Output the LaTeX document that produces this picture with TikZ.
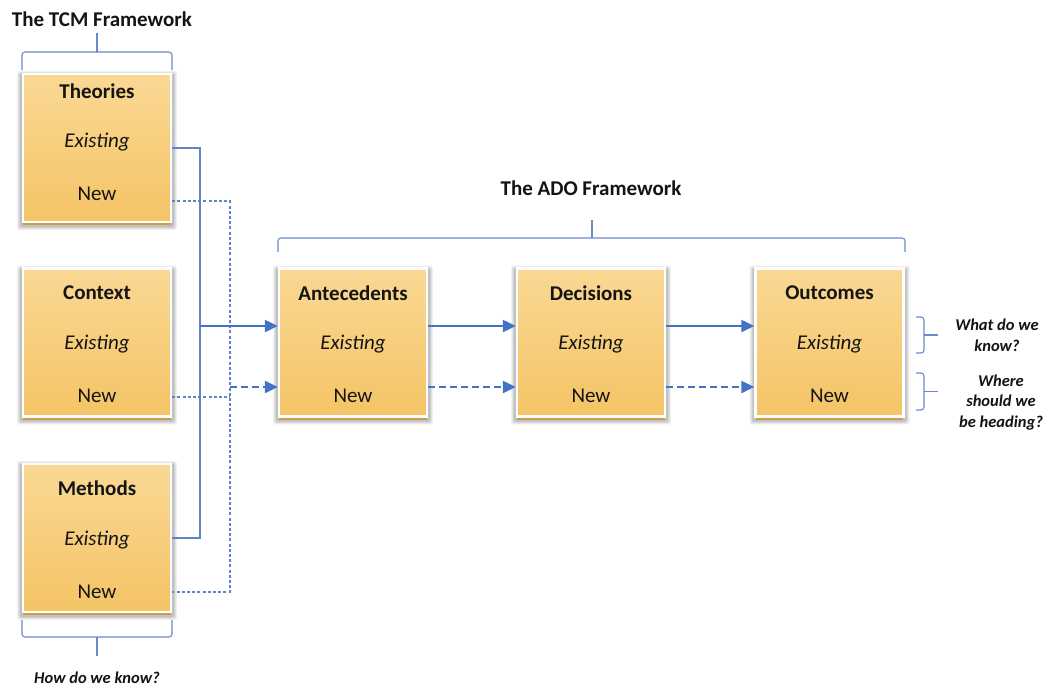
\documentclass[tikz,border=0pt]{standalone}
\usepackage{fontspec}
\setmainfont{Carlito}
\usetikzlibrary{arrows.meta,calc}

\definecolor{linkblue}{RGB}{68,114,196}
\definecolor{thinblue}{RGB}{95,130,200}
\definecolor{bracecol}{RGB}{105,138,205}
\definecolor{boxtop}{RGB}{250,216,148}
\definecolor{boxbot}{RGB}{244,196,102}
\definecolor{boxedge}{RGB}{205,158,70}
\definecolor{inktext}{RGB}{20,20,20}

\tikzset{
  x=1pt, y=-1pt,
  cardbox/.style={minimum width=148pt, minimum height=148pt, inner sep=0pt,
    top color=boxtop, bottom color=boxbot, draw=white, line width=2.4pt},
  cardtitle/.style={font=\fontsize{21}{24}\selectfont\bfseries, text=inktext, inner sep=0pt},
  cardold/.style={font=\fontsize{21}{24}\selectfont\itshape, text=inktext, inner sep=0pt},
  cardnew/.style={font=\fontsize{21}{24}\selectfont, text=inktext, inner sep=0pt},
  frametitle/.style={font=\fontsize{21}{24}\selectfont\bfseries, text=inktext, inner sep=0pt},
  question/.style={font=\fontsize{16.5}{20.5}\selectfont\bfseries\itshape, text=inktext,
    align=center, inner sep=0pt},
  bracket/.style={draw=bracecol, line width=1.1pt, rounded corners=3pt},
  feedline/.style={draw=thinblue, line width=1.3pt},
  feeddash/.style={draw=thinblue, line width=1.1pt, dash pattern=on 3pt off 2.2pt},
  mainarrow/.style={draw=linkblue, line width=2.3pt, -{Triangle[length=13pt,width=12pt]}},
  dasharrow/.style={draw=linkblue, line width=2.3pt, dash pattern=on 7pt off 4pt,
    -{Triangle[length=13pt,width=12pt]}},
}

% a card with a soft shadow, a white rim and a darker bottom edge
\newcommand\framecard[6]{%
  % #1 name, #2 centre x, #3 centre y, #4 title, #5 title offset, #6 line step
  \foreach \g/\o in {5/0.05,4/0.06,3/0.07,2/0.08} {
    \fill[black, opacity=\o, rounded corners=2pt]
      (#2-75-\g, #3-74-\g+2) rectangle (#2+75+\g, #3+76+\g+1);
  }
  \node[cardbox] (#1) at (#2,#3) {};
  \draw[boxedge, line width=1.6pt] ($(#1.south west)+(1.5pt,-1pt)$) -- ($(#1.south east)+(-1.5pt,-1pt)$);
  \node[cardtitle] (#1-t) at (#2,#3-74+#5) {#4};
  \node[cardold]   (#1-e) at (#2,#3-74+#5+#6) {Existing};
  \node[cardnew]   (#1-n) at (#2,#3-74+#5+#6+#6) {New};
}

\begin{document}
\begin{tikzpicture}
\useasboundingbox (0,0) rectangle (1045,686);
\fill[white] (0,0) rectangle (1045,686);

% left-hand TCM cards
\framecard{theo}{97}{148}{Theories}{17}{51.5}
\framecard{cont}{97}{342.5}{Context}{24.5}{51.5}
\framecard{meth}{97}{538}{Methods}{24.5}{51.5}

% ADO chain
\framecard{ante}{353}{342.5}{Antecedents}{24.5}{51.5}
\framecard{deci}{591}{342.5}{Decisions}{24.5}{51.5}
\framecard{outc}{829.5}{342.5}{Outcomes}{24.5}{51.5}

% junction points of the feeder lines
\coordinate (solidtop) at (200,148);
\coordinate (solidbot) at (200,538);
\coordinate (solidout) at (200,326);
\coordinate (dashtop) at (230,201);
\coordinate (dashbot) at (230,592);
\coordinate (dashmid) at (230,397);
\coordinate (dashout) at (230,387);

% existing-knowledge feeder
\draw[feedline] (theo.east |- solidtop) -- (solidtop) -- (solidbot) -- (meth.east |- solidbot);
% new-knowledge feeder
\draw[feeddash] (theo.east |- dashtop) -- (dashtop) -- (dashbot) -- (meth.east |- dashbot);
\draw[feeddash] (cont.east |- dashmid) -- (dashmid);

% arrows into and along the chain
\draw[mainarrow] (solidout) -- (ante.west |- solidout);
\draw[dasharrow] (dashout) -- (ante.west |- dashout);
\draw[mainarrow] (ante.east |- solidout) -- (deci.west |- solidout);
\draw[dasharrow] (ante.east |- dashout) -- (deci.west |- dashout);
\draw[mainarrow] (deci.east |- solidout) -- (outc.west |- solidout);
\draw[dasharrow] (deci.east |- dashout) -- (outc.west |- dashout);

% framework titles and brackets
\node[frametitle] (tcmtitle) at (102,19) {The TCM Framework};
\draw[bracket] (22,70) |- (97,52);
\draw[bracket] (172,70) |- (97,52);
\draw[bracecol, line width=1.1pt] (97,52) -- (97,33);

\node[frametitle] (adotitle) at (591,188) {The ADO Framework};
\draw[bracket] (278,252) |- (592,238);
\draw[bracket] (905,252) |- (592,238);
\draw[bracecol, line width=1.1pt] (592,238) -- (592,220);

\draw[bracket] (22,620) |- (97,637);
\draw[bracket] (172,620) |- (97,637);
\draw[bracecol, line width=1.1pt] (97,637) -- (97,656);
\node[question] (howq) at (97,678) {How do we know?};

% side brackets and questions
\draw[bracket] (916,317) -| (924,353) -- (916,353);
\draw[bracecol, line width=1.1pt] (924,335) -- (938,335);
\node[question] (whatq) at (997,335.5) {What do we\\know?};

\draw[bracket] (916,373) -| (924,410) -- (916,410);
\draw[bracecol, line width=1.1pt] (924,391.5) -- (938,391.5);
\node[question] (whereq) at (1001,402.5) {Where\\should we\\be heading?};
\end{tikzpicture}
\end{document}
